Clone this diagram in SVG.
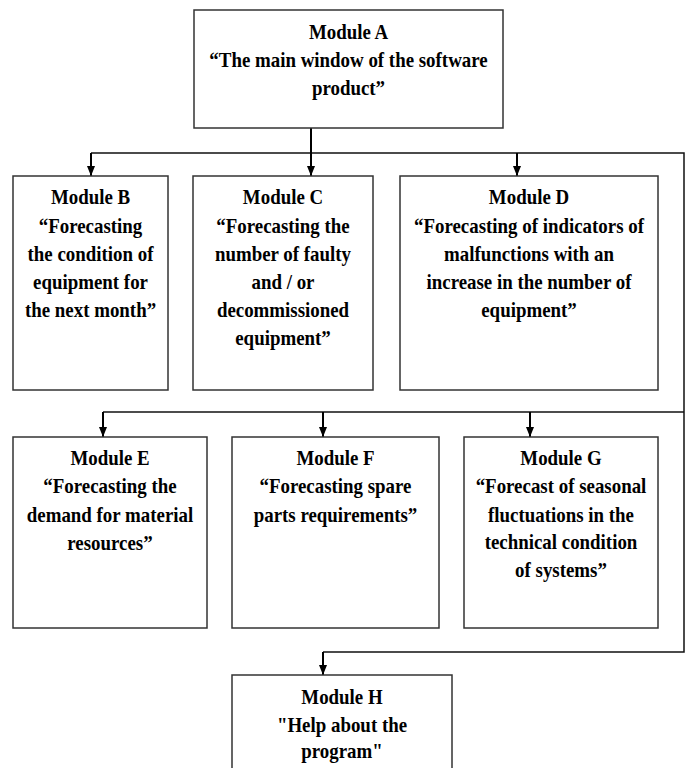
<svg xmlns="http://www.w3.org/2000/svg" width="689" height="768" viewBox="0 0 689 768">
<style>
.box{fill:#fff;stroke:#333;stroke-width:1.5}
.t{font-family:"Times New Roman","Liberation Serif","DejaVu Serif",serif;font-weight:bold;font-size:21px;fill:#000;text-anchor:middle}
.c{fill:none;stroke:#111;stroke-width:1.5}
.a{fill:none;stroke:#000;stroke-width:2;marker-end:url(#ah)}
</style>
<defs>
<marker id="ah" markerWidth="10" markerHeight="8" refX="10" refY="4" orient="auto" markerUnits="userSpaceOnUse" viewBox="0 0 10 8">
<path d="M0,0 L10,4 L0,8 Z" fill="#000"/>
</marker>
</defs>
<g id="connectors">
<path class="c" d="M91,153 H684 V652 H323"/>
<path class="c" d="M103,412 H684"/>
<path class="a" d="M311,128 V176"/>
<path class="a" d="M91,153 V176"/>
<path class="a" d="M517,153 V176"/>
<path class="a" d="M103,412 V437"/>
<path class="a" d="M323,412 V437"/>
<path class="a" d="M530,412 V437"/>
<path class="a" d="M323,652 V675"/>
</g>
<g id="moduleA">
<rect class="box" x="194" y="10" width="309" height="118"/>
<text class="t" transform="translate(348.5 0) scale(0.9 1)"><tspan x="0" y="39">Module A</tspan><tspan x="0" y="67">“The main window of the software</tspan><tspan x="0" y="95">product”</tspan></text>
</g>
<g id="moduleB">
<rect class="box" x="13" y="176" width="155" height="214"/>
<text class="t" transform="translate(90.5 0) scale(0.9 1)"><tspan x="0" y="204">Module B</tspan><tspan x="0" y="233">“Forecasting</tspan><tspan x="0" y="261">the condition of</tspan><tspan x="0" y="289">equipment for</tspan><tspan x="0" y="317">the next month”</tspan></text>
</g>
<g id="moduleC">
<rect class="box" x="193" y="176" width="180" height="214"/>
<text class="t" transform="translate(283 0) scale(0.9 1)"><tspan x="0" y="204">Module C</tspan><tspan x="0" y="233">“Forecasting the</tspan><tspan x="0" y="261">number of faulty</tspan><tspan x="0" y="289">and / or</tspan><tspan x="0" y="317">decommissioned</tspan><tspan x="0" y="345">equipment”</tspan></text>
</g>
<g id="moduleD">
<rect class="box" x="400" y="176" width="258" height="214"/>
<text class="t" transform="translate(529 0) scale(0.9 1)"><tspan x="0" y="204">Module D</tspan><tspan x="0" y="233">“Forecasting of indicators of</tspan><tspan x="0" y="261">malfunctions with an</tspan><tspan x="0" y="289">increase in the number of</tspan><tspan x="0" y="317">equipment”</tspan></text>
</g>
<g id="moduleE">
<rect class="box" x="13" y="437" width="194" height="191"/>
<text class="t" transform="translate(110 0) scale(0.9 1)"><tspan x="0" y="465">Module E</tspan><tspan x="0" y="493">“Forecasting the</tspan><tspan x="0" y="522">demand for material</tspan><tspan x="0" y="550">resources”</tspan></text>
</g>
<g id="moduleF">
<rect class="box" x="232" y="437" width="207" height="191"/>
<text class="t" transform="translate(335.5 0) scale(0.9 1)"><tspan x="0" y="465">Module F</tspan><tspan x="0" y="493">“Forecasting spare</tspan><tspan x="0" y="522">parts requirements”</tspan></text>
</g>
<g id="moduleG">
<rect class="box" x="464" y="437" width="194" height="191"/>
<text class="t" transform="translate(561 0) scale(0.9 1)"><tspan x="0" y="465">Module G</tspan><tspan x="0" y="493">“Forecast of seasonal</tspan><tspan x="0" y="522">fluctuations in the</tspan><tspan x="0" y="549">technical condition</tspan><tspan x="0" y="577">of systems”</tspan></text>
</g>
<g id="moduleH">
<rect class="box" x="232" y="675" width="220" height="110"/>
<text class="t" transform="translate(342 0) scale(0.9 1)"><tspan x="0" y="704">Module H</tspan><tspan x="0" y="732">"Help about the</tspan><tspan x="0" y="758">program"</tspan></text>
</g>
</svg>
